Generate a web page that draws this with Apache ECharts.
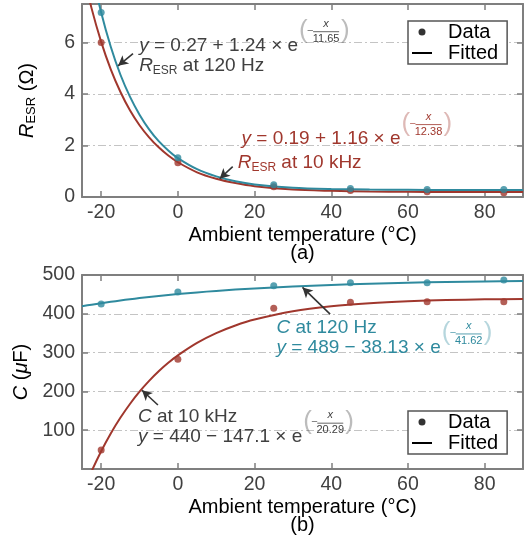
<!DOCTYPE html>
<html><head><meta charset="utf-8">
<script src="https://cdn.jsdelivr.net/npm/echarts@6/dist/echarts.min.js"></script>
<style>html,body{margin:0;padding:0;background:#fff}#c{width:528px;height:540px}</style>
</head><body><div id="c"></div>
<script>
// ---------- data ----------
const temps = [-20, 0, 25, 45, 65, 85];
const resr120 = [7.17, 1.53, 0.48, 0.33, 0.29, 0.29];
const resr10k = [6.0, 1.33, 0.40, 0.25, 0.20, 0.17];
const cap120 = [425, 456, 472, 480, 480, 487];
const cap10k = [49, 283, 414, 430, 431, 431];

const fitX = [-25, -22.5, -20, -17.5, -15, -12.5, -10, -7.5, -5, -2.5, 0, 5, 10, 15, 20, 30, 40, 50, 60, 70, 80, 90];
const fitResr120 = [10.87, 8.82, 7.17, 5.84, 4.76, 3.90, 3.20, 2.63, 2.17, 1.81, 1.51, 1.08, 0.80, 0.61, 0.49, 0.36, 0.31, 0.29, 0.28, 0.27, 0.27, 0.27];
const fitResr10k = [8.93, 7.33, 6.03, 4.96, 4.09, 3.37, 2.79, 2.32, 1.93, 1.61, 1.35, 0.96, 0.71, 0.54, 0.42, 0.29, 0.24, 0.21, 0.20, 0.19, 0.19, 0.19];
const fitCap120 = [419.5, 423.5, 427.4, 430.9, 434.3, 437.5, 440.5, 443.3, 446.0, 448.5, 450.9, 455.2, 459.0, 462.4, 465.4, 470.5, 474.4, 477.5, 480.0, 481.9, 483.4, 484.6];
const fitCap10k = [-64.4, -5.9, 45.8, 91.5, 131.9, 167.6, 199.2, 227.1, 251.8, 273.6, 292.9, 325.0, 350.1, 369.8, 385.1, 406.5, 419.5, 427.5, 432.4, 435.3, 437.2, 438.3];

const xTicks = [-20, 0, 20, 40, 60, 80];
const legendNames = ['Data', 'Fitted'];

// ---------- styles ----------
const FONT = '"Liberation Sans", Arial, sans-serif';
const BLUE = '#2f8a9e';
const RED = '#a0372d';
const GRAY = '#404040';
const AX = '#7f7f7f';
const GRIDC = '#c4c4c4';

const chart = echarts.init(document.getElementById('c'), null, {renderer: 'canvas'});

function pairs(xs, ys) { return xs.map((x, i) => [x, ys[i]]); }

function xAxisPair(g, name) {
  const base = {
    gridIndex: g, type: 'value', min: -25, max: 90,
    axisLine: {show: true, onZero: false, lineStyle: {color: AX, width: 2}},
    axisTick: {show: true, inside: true, length: 6, customValues: xTicks, lineStyle: {color: AX, width: 1.5}},
    splitLine: {show: false}
  };
  return [
    Object.assign({}, base, {
      position: 'bottom',
      axisLabel: {customValues: xTicks, color: GRAY, fontSize: 19.5, fontFamily: FONT, margin: 6},
      name: name, nameLocation: 'middle', nameGap: 29,
      nameTextStyle: {color: '#000', fontSize: 20, fontFamily: FONT, lineHeight: 18}
    }),
    Object.assign({}, base, {position: 'top', axisLabel: {show: false}})
  ];
}

function yAxisPair(g, min, max, interval, name, rich, extraLabel) {
  const base = {
    gridIndex: g, type: 'value', min: min, max: max, interval: interval,
    axisLine: {show: true, onZero: false, lineStyle: {color: AX, width: 2}},
    axisTick: {show: true, inside: true, length: 6, lineStyle: {color: AX, width: 1.5}}
  };
  return [
    Object.assign({}, base, {
      position: 'left',
      axisLabel: Object.assign({color: GRAY, fontSize: 19.5, fontFamily: FONT, margin: 7}, extraLabel),
      splitLine: {show: true, lineStyle: {color: GRIDC, width: 1, type: [8, 3, 2, 3]}},
      name: name, nameLocation: 'middle', nameGap: 44,
      nameTextStyle: {color: '#000', fontSize: 20, fontFamily: FONT, rich: rich}
    }),
    Object.assign({}, base, {position: 'right', axisLabel: {show: false}, splitLine: {show: false}})
  ];
}

const arrowStyle = {color: '#333', width: 1.6, type: 'solid'};
function arrow(from, to) {
  return {
    silent: true, animation: false, symbol: ['none', 'arrow'], symbolSize: [8, 10],
    label: {show: false}, lineStyle: arrowStyle, emphasis: {disabled: true},
    data: [[{coord: from}, {coord: to}]]
  };
}

function fitSeries(xi, yi, ys, color, ml) {
  return {
    type: 'line', name: 'Fitted', xAxisIndex: xi, yAxisIndex: yi,
    data: pairs(fitX, ys), smooth: 0.3, symbol: 'none', showSymbol: false, clip: true,
    lineStyle: {color: color, width: 2}, itemStyle: {color: color}, z: 3,
    markLine: ml
  };
}
function dataSeries(xi, yi, ys, color) {
  return {
    type: 'scatter', name: 'Data', xAxisIndex: xi, yAxisIndex: yi,
    data: pairs(temps, ys), symbolSize: 7, itemStyle: {color: color}, z: 5
  };
}

function legendAt(top) {
  return {
    orient: 'vertical', left: 408, top: top, selectedMode: false,
    data: [
      {name: legendNames[0], icon: 'circle', itemStyle: {color: '#000'}},
      {name: legendNames[1], itemStyle: {color: '#000', opacity: 0}, lineStyle: {color: '#000', width: 2}}
    ],
    formatter: n => '  ' + n,
    itemWidth: 20, itemHeight: 7, itemGap: 1,
    padding: [1, 9, 1, 3],
    borderColor: '#555', borderWidth: 1.5, backgroundColor: '#fff',
    textStyle: {color: '#000', fontSize: 20, fontFamily: FONT}
  };
}

const xa0 = xAxisPair(0, 'Ambient temperature (°C)\n(a)');
const xa1 = xAxisPair(1, 'Ambient temperature (°C)\n(b)');
const ya0 = yAxisPair(0, 0, 7.5, 2, '{ri|R}{sub|ESR}{n| (Ω)}', {
  ri: {fontStyle: 'italic', fontSize: 20, lineHeight: 22, fontFamily: FONT, color: '#000'},
  sub: {fontSize: 13, lineHeight: 12, verticalAlign: 'bottom', fontFamily: FONT, color: '#000'},
  n: {fontSize: 20, lineHeight: 22, fontFamily: FONT, color: '#000'}
}, {showMaxLabel: false});
const ya1 = yAxisPair(1, 0, 500, 100, '{ri|C} ({ri|μ}{n|F)}', {
  ri: {fontStyle: 'italic', fontSize: 20, fontFamily: FONT, color: '#000'},
  n: {fontSize: 20, fontFamily: FONT, color: '#000'}
}, {showMinLabel: false});

chart.setOption({
  animation: false,
  backgroundColor: '#fff',
  grid: [
    {left: 82, right: 5, top: 4, height: 193},
    {left: 82, right: 5, top: 275, height: 194}
  ],
  xAxis: [xa0[0], xa0[1], xa1[0], xa1[1]],
  yAxis: [ya0[0], ya0[1], ya1[0], ya1[1]],
  legend: [legendAt(21), legendAt(411)],
  series: [
    fitSeries(0, 0, fitResr10k, RED, arrow([14.3, 1.18], [10.9, 0.71])),
    fitSeries(0, 0, fitResr120, BLUE, arrow([-11.7, 5.57], [-15.6, 5.1])),
    dataSeries(0, 0, resr10k, RED),
    dataSeries(0, 0, resr120, BLUE),
    fitSeries(2, 2, fitCap10k, RED, arrow([-5.2, 165], [-9.35, 203])),
    fitSeries(2, 2, fitCap120, BLUE, arrow([39.7, 399], [32.5, 468])),
    dataSeries(2, 2, cap10k, RED),
    dataSeries(2, 2, cap120, BLUE)
  ]
});

// ---------- annotations (anchored in data coordinates) ----------
const mctx = document.createElement('canvas').getContext('2d');
function tw(str, size, italic) {
  mctx.font = (italic ? 'italic ' : '') + size + 'px ' + FONT;
  return mctx.measureText(str).width;
}
function P(g, x, y) { return chart.convertToPixel({gridIndex: g}, [x, y]); }

function txt(x, y, s, color, size, opts) {
  return {type: 'text', x: x, y: y, silent: true,
    style: Object.assign({text: s, fill: color, fontSize: size, fontFamily: FONT, verticalAlign: 'middle', align: 'left'}, opts || {})};
}

function equation(g, dx, dy, rest, denom, color) {
  const p = P(g, dx, dy);
  const fs = 19;
  const w = tw('y', fs, true) + tw(rest, fs, false);
  const cx = w + 28;
  const children = [
    txt(0, 0, '{i|y}' + rest, color, fs, {rich: {i: {fontStyle: 'italic', fontSize: fs, fontFamily: FONT}}}),
    txt(w + 1, -15, '(', color, 26, {opacity: 0.35}),
    txt(w + 9, -15, '−', color, 11, {opacity: 0.8}),
    txt(cx, -22, 'x', color, 11, {align: 'center', fontStyle: 'italic'}),
    {type: 'line', silent: true, shape: {x1: w + 15, y1: -14, x2: w + 41, y2: -14}, style: {stroke: color, lineWidth: 1, opacity: 0.8}},
    txt(cx, -7, denom, color, 11, {align: 'center'}),
    txt(w + 43, -15, ')', color, 26, {opacity: 0.35})
  ];
  return {type: 'group', x: p[0], y: p[1], silent: true, children: children};
}

function resrLabel(g, dx, dy, rest, color) {
  const p = P(g, dx, dy);
  return txt(p[0], p[1], '{ri|R}{sub|ESR}{n|' + rest + '}', color, 19, {rich: {
    ri: {fontStyle: 'italic', fontSize: 19, lineHeight: 22, fontFamily: FONT},
    sub: {fontSize: 12, lineHeight: 12, verticalAlign: 'bottom', fontFamily: FONT},
    n: {fontSize: 19, lineHeight: 22, fontFamily: FONT}
  }});
}
function capLabel(g, dx, dy, rest, color) {
  const p = P(g, dx, dy);
  return txt(p[0], p[1], '{ri|C}' + rest, color, 19, {rich: {ri: {fontStyle: 'italic', fontSize: 19, fontFamily: FONT}}});
}

chart.setOption({
  graphic: {elements: [
    equation(0, -10.1, 5.88, ' = 0.27 + 1.24 × e', '11.65', GRAY),
    resrLabel(0, -10.1, 5.1, ' at 120 Hz', GRAY),
    equation(0, 16.6, 2.27, ' = 0.19 + 1.16 × e', '12.38', RED),
    resrLabel(0, 15.6, 1.33, ' at 10 kHz', RED),
    capLabel(1, 25.7, 363, ' at 120 Hz', BLUE),
    equation(1, 25.7, 312, ' = 489 − 38.13 × e', '41.62', BLUE),
    capLabel(1, -10.4, 134, ' at 10 kHz', GRAY),
    equation(1, -10.4, 82, ' = 440 − 147.1 × e', '20.29', GRAY)
  ]}
});
</script>
</body></html>
